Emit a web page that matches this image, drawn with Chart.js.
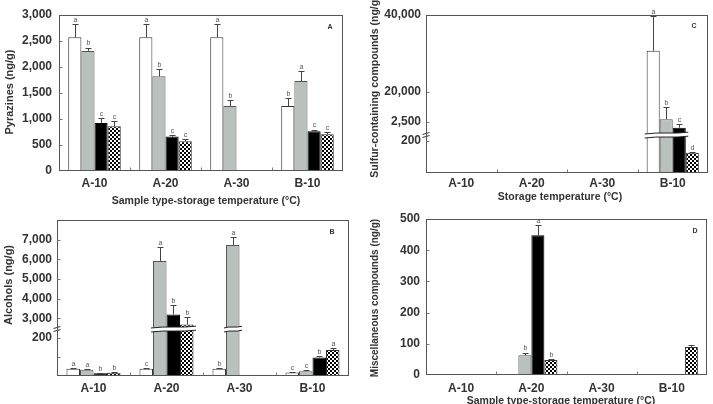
<!DOCTYPE html>
<html>
<head>
<meta charset="utf-8">
<script src="https://cdn.jsdelivr.net/npm/chart.js@4.4.1/dist/chart.umd.min.js"></script>
<style>
html,body{margin:0;padding:0;background:#fff;}
#wrap{position:relative;width:713px;height:404px;overflow:hidden;background:#fff;}
#wrap canvas{position:absolute;left:0;top:0;}
</style>
</head>
<body>
<div id="wrap">
<canvas id="chartA" width="713" height="404"></canvas>
<canvas id="chartB" width="713" height="404"></canvas>
<canvas id="chartC" width="713" height="404"></canvas>
<canvas id="chartD" width="713" height="404"></canvas>
</div>
<script>
// ---------------- DATA ----------------
const categories = ['A-10', 'A-20', 'A-30', 'B-10'];
const seriesNames = ['Series 1', 'Series 2', 'Series 3', 'Series 4'];

// Panel A – Pyrazines (ng/g)
const pyrazinesSeries1 = [2570, 2570, 2570, 1250];
const pyrazinesSeries2 = [2310, 1820, 1250, 1730];
const pyrazinesSeries3 = [925, 662, null, 764];
const pyrazinesSeries4 = [861, 572, null, 707];
const pyrazinesError1 = [250, 250, 250, 145];
const pyrazinesError2 = [65, 135, 115, 190];
const pyrazinesError3 = [85, 32, null, 33];
const pyrazinesError4 = [100, 50, null, 38];
const pyrazinesLetters1 = ['a', 'a', 'a', 'b'];
const pyrazinesLetters2 = ['b', 'b', 'b', 'a'];
const pyrazinesLetters3 = ['c', 'c', null, 'c'];
const pyrazinesLetters4 = ['c', 'c', null, 'c'];
const pyrazinesTicks = [0, 500, 1000, 1500, 2000, 2500, 3000];
const pyrazinesTickLabels = ['0', '500', '1,000', '1,500', '2,000', '2,500', '3,000'];

// Panel B – Alcohols (ng/g), broken axis
const alcoholsSeries1 = [38, 38, 38, 19];
const alcoholsSeries2 = [33, 5910, 6730, 25];
const alcoholsSeries3 = [14, 3190, null, 98];
const alcoholsSeries4 = [17, 2680, null, 137];
const alcoholsError1 = [5, 5, 5, 3];
const alcoholsError2 = [5, 730, 410, 4];
const alcoholsError3 = [3, 460, null, 8];
const alcoholsError4 = [3, 370, null, 10];
const alcoholsLetters1 = ['a', 'c', 'b', 'c'];
const alcoholsLetters2 = ['a', 'a', 'a', 'c'];
const alcoholsLetters3 = ['b', 'b', null, 'b'];
const alcoholsLetters4 = ['b', 'b', null, 'a'];
const alcoholsTicks = [100, 200, 3000, 4000, 5000, 6000, 7000];
const alcoholsTickLabels = ['', '200', '3,000', '4,000', '5,000', '6,000', '7,000'];

// Panel C – Sulfur-containing compounds (ng/g), broken axis
const sulfurSeries1 = [null, null, null, 30700];
const sulfurSeries2 = [null, null, null, 4100];
const sulfurSeries3 = [null, null, null, 1840];
const sulfurSeries4 = [null, null, null, 127];
const sulfurError1 = [null, null, null, 9000];
const sulfurError2 = [null, null, null, 7300];
const sulfurError3 = [null, null, null, 390];
const sulfurError4 = [null, null, null, 5];
const sulfurLetters1 = [null, null, null, 'a'];
const sulfurLetters2 = [null, null, null, 'b'];
const sulfurLetters3 = [null, null, null, 'c'];
const sulfurLetters4 = [null, null, null, 'd'];
const sulfurTicks = [200, 2500, 20000, 40000];
const sulfurTickLabels = ['200', '2,500', '20,000', '40,000'];

// Panel D – Miscellaneous compounds (ng/g)
const miscSeries1 = [null, null, null, null];
const miscSeries2 = [null, 63, null, null];
const miscSeries3 = [null, 448, null, null];
const miscSeries4 = [null, 48, null, 90];
const miscError1 = [null, null, null, null];
const miscError2 = [null, 9, null, null];
const miscError3 = [null, 33, null, null];
const miscError4 = [null, 4, null, 6];
const miscLetters1 = [null, null, null, null];
const miscLetters2 = [null, 'b', null, null];
const miscLetters3 = [null, 'a', null, null];
const miscLetters4 = [null, 'b', null, null];
const miscTicks = [0, 100, 200, 300, 400, 500];
const miscTickLabels = ['0', '100', '200', '300', '400', '500'];

// ---------------- STYLE / LAYOUT ----------------
const FONT = "'Liberation Sans', Arial, Helvetica, sans-serif";
Chart.defaults.font.family = FONT;
Chart.defaults.color = '#333';

// Linear scale with a piecewise (broken) value->position mapping
class BrokenLinearScale extends Chart.LinearScale {
  _k() { return this.options.knots || [[this.min, 0], [this.max, 1]]; }
  getPixelForValue(value) {
    if (value === null || value === undefined || Number.isNaN(+value)) return NaN;
    const k = this._k();
    const v = +value;
    let f;
    if (v <= k[0][0]) f = k[0][1];
    else if (v >= k[k.length - 1][0]) {
      const a = k[k.length - 2], b = k[k.length - 1];
      f = b[1] + (v - b[0]) * (b[1] - a[1]) / (b[0] - a[0]);
    } else {
      for (let i = 1; i < k.length; i++) {
        if (v <= k[i][0]) {
          const a = k[i - 1], b = k[i];
          f = a[1] + (v - a[0]) * (b[1] - a[1]) / (b[0] - a[0]);
          break;
        }
      }
    }
    return this.bottom - f * (this.bottom - this.top);
  }
  getValueForPixel(pixel) {
    const k = this._k();
    const f = (this.bottom - pixel) / (this.bottom - this.top);
    for (let i = 1; i < k.length; i++) {
      if (f <= k[i][1] || i === k.length - 1) {
        const a = k[i - 1], b = k[i];
        return a[0] + (f - a[1]) * (b[0] - a[0]) / (b[1] - a[1]);
      }
    }
    return 0;
  }
}
BrokenLinearScale.id = 'brokenLinear';
BrokenLinearScale.defaults = Chart.LinearScale.defaults;
Chart.register(BrokenLinearScale);

function checker(ctx) {
  const c = document.createElement('canvas');
  c.width = 4; c.height = 4;
  const x = c.getContext('2d');
  x.fillStyle = '#fff'; x.fillRect(0, 0, 4, 4);
  x.fillStyle = '#000'; x.fillRect(0, 0, 2, 2); x.fillRect(2, 2, 2, 2);
  return ctx.createPattern(c, 'repeat');
}

function drawBand(ctx, x0, x1, yc) {
  const h = 4, w = x1 - x0;
  const top = () => { ctx.moveTo(x0, yc - h / 2 + 1); ctx.bezierCurveTo(x0 + w * 0.35, yc - h / 2 - 1.2, x0 + w * 0.65, yc - h / 2 + 1.2, x1, yc - h / 2 - 0.8); };
  const bot = () => { ctx.moveTo(x0, yc + h / 2 + 1); ctx.bezierCurveTo(x0 + w * 0.35, yc + h / 2 - 1.2, x0 + w * 0.65, yc + h / 2 + 1.2, x1, yc + h / 2 - 0.8); };
  ctx.beginPath();
  ctx.moveTo(x0, yc - h / 2 + 1);
  ctx.bezierCurveTo(x0 + w * 0.35, yc - h / 2 - 1.2, x0 + w * 0.65, yc - h / 2 + 1.2, x1, yc - h / 2 - 0.8);
  ctx.lineTo(x1, yc + h / 2 - 0.8);
  ctx.bezierCurveTo(x0 + w * 0.65, yc + h / 2 + 1.2, x0 + w * 0.35, yc + h / 2 - 1.2, x0, yc + h / 2 + 1);
  ctx.closePath();
  ctx.fillStyle = '#fff';
  ctx.fill();
  ctx.strokeStyle = '#222';
  ctx.lineWidth = 1;
  ctx.beginPath(); top(); ctx.stroke();
  ctx.beginPath(); bot(); ctx.stroke();
}

const decorPlugin = {
  id: 'decor',
  afterDatasetsDraw(chart, args, opts) {
    const ctx = chart.ctx, area = chart.chartArea, ys = chart.scales.y;
    ctx.save();
    // broken-axis bands across tall bars
    if (opts.breakValue != null) {
      const by = ys.getPixelForValue(opts.breakValue);
      chart.data.labels.forEach((lab, i) => {
        let x0 = Infinity, x1 = -Infinity;
        chart.data.datasets.forEach((ds, di) => {
          const v = ds.data[i];
          if (v != null && v > opts.breakValue) {
            const el = chart.getDatasetMeta(di).data[i];
            x0 = Math.min(x0, el.x - el.width / 2);
            x1 = Math.max(x1, el.x + el.width / 2);
          }
        });
        if (x0 < x1) drawBand(ctx, x0 - 2, x1 + 2.5, by);
      });
      // axis break mark
      const ax = Math.round(area.left);
      ctx.fillStyle = '#fff';
      ctx.fillRect(ax - 3, by - 1.5, 6, 3);
      ctx.strokeStyle = '#333'; ctx.lineWidth = 1;
      ctx.beginPath();
      ctx.moveTo(ax - 3.5, by - 0.5); ctx.lineTo(ax + 3.5, by - 2.5);
      ctx.moveTo(ax - 3.5, by + 2.5); ctx.lineTo(ax + 3.5, by + 0.5);
      ctx.stroke();
    }
    // error bars + significance letters
    chart.data.datasets.forEach((ds, di) => {
      const meta = chart.getDatasetMeta(di);
      ds.data.forEach((v, i) => {
        if (v == null) return;
        const el = meta.data[i];
        const cx = Math.round(el.x) + 0.5;
        const top = ys.getPixelForValue(v);
        let tip = top;
        const e = ds.errors ? ds.errors[i] : null;
        if (e) {
          tip = ys.getPixelForValue(v + e);
          ctx.strokeStyle = '#444'; ctx.lineWidth = 1;
          ctx.beginPath();
          ctx.moveTo(cx, top); ctx.lineTo(cx, Math.round(tip) + 0.5);
          ctx.moveTo(cx - 3, Math.round(tip) + 0.5); ctx.lineTo(cx + 3, Math.round(tip) + 0.5);
          ctx.stroke();
        }
        const s = ds.letters ? ds.letters[i] : null;
        if (s) {
          ctx.fillStyle = '#555';
          ctx.font = '7px ' + FONT;
          ctx.textAlign = 'center'; ctx.textBaseline = 'bottom';
          ctx.fillText(s, cx, tip - 0.5);
        }
      });
    });
    ctx.restore();
  },
  afterDraw(chart, args, opts) {
    const ctx = chart.ctx, a = chart.chartArea, ys = chart.scales.y, xs = chart.scales.x;
    ctx.save();
    ctx.strokeStyle = '#555'; ctx.lineWidth = 1;
    const L = Math.round(a.left) + 0.5, R = Math.round(a.right) - 0.5, T = Math.round(a.top) + 0.5, B = Math.round(a.bottom) - 0.5;
    ctx.strokeRect(L, T, R - L, B - T);
    // inner tick marks
    ctx.strokeStyle = '#777';
    ctx.beginPath();
    ys.ticks.forEach(t => {
      const p = Math.round(ys.getPixelForValue(t.value)) + 0.5;
      if (p > T + 1 && p < B - 1) { ctx.moveTo(L, p); ctx.lineTo(L + 3, p); }
    });
    for (let i = 1; i < chart.data.labels.length; i++) {
      const p = Math.round((xs.getPixelForValue(i - 1) + xs.getPixelForValue(i)) / 2) + 0.5;
      ctx.moveTo(p, B); ctx.lineTo(p, B - 3);
    }
    ctx.stroke();
    ctx.fillStyle = '#333';
    // panel letter
    if (opts.panel) {
      ctx.font = 'bold 7px ' + FONT;
      ctx.textAlign = 'center'; ctx.textBaseline = 'middle';
      ctx.fillText(opts.panel.text, opts.panel.x, opts.panel.y);
    }
    // axis titles
    if (opts.yTitle) {
      ctx.save();
      ctx.translate(opts.yTitle.x, opts.yTitle.y);
      ctx.rotate(-Math.PI / 2);
      ctx.font = 'bold ' + opts.yTitle.size + 'px ' + FONT;
      ctx.textAlign = 'center'; ctx.textBaseline = 'middle';
      ctx.fillText(opts.yTitle.text, 0, 0);
      ctx.restore();
    }
    if (opts.xTitle) {
      ctx.font = 'bold ' + opts.xTitle.size + 'px ' + FONT;
      ctx.textAlign = 'center'; ctx.textBaseline = 'middle';
      ctx.fillText(opts.xTitle.text, opts.xTitle.x, opts.xTitle.y);
    }
    ctx.restore();
  }
};

const GRAY = '#b9c1bd';

function makeChart(id, cfg) {
  const canvas = document.getElementById(id);
  const ctx = canvas.getContext('2d');
  const pat = checker(ctx);
  const fills = ['#ffffff', GRAY, '#000000', pat];
  const borders = ['#333', '#555', '#000', '#333'];
  const datasets = cfg.series.map((d, i) => ({
    label: seriesNames[i],
    data: d,
    errors: cfg.errors[i],
    letters: cfg.letters[i],
    backgroundColor: fills[i],
    borderColor: borders[i],
    borderWidth: 1,
    barPercentage: 1,
    categoryPercentage: 0.74
  }));
  const yScale = {
    type: cfg.knots ? 'brokenLinear' : 'linear',
    min: cfg.min, max: cfg.max,
    grid: { display: false, drawTicks: false },
    border: { display: false },
    afterBuildTicks: s => { s.ticks = cfg.ticks.map(v => ({ value: v })); },
    afterFit: s => { s.width = 50; },
    ticks: {
      autoSkip: false,
      padding: cfg.yPad,
      color: '#333',
      font: { size: 12, weight: 'bold' },
      callback: (v, i) => cfg.tickLabels[i]
    }
  };
  if (cfg.knots) yScale.knots = cfg.knots;
  return new Chart(ctx, {
    type: 'bar',
    data: { labels: categories, datasets },
    options: {
      responsive: false,
      animation: false,
      devicePixelRatio: 1,
      layout: { padding: cfg.padding },
      plugins: {
        legend: { display: false },
        tooltip: { enabled: false },
        decor: { breakValue: cfg.breakValue, panel: cfg.panel, yTitle: cfg.yTitle, xTitle: cfg.xTitle }
      },
      scales: {
        x: {
          grid: { display: false, drawTicks: false },
          border: { display: false },
          afterFit: s => { s.height = 25; },
          ticks: { padding: cfg.xPad, color: '#333', font: { size: 12, weight: 'bold' }, maxRotation: 0 }
        },
        y: yScale
      }
    },
    plugins: [decorPlugin]
  });
}

const X_TITLE = 'Sample type-storage temperature (\u00B0C)';

makeChart('chartA', {
  series: [pyrazinesSeries1, pyrazinesSeries2, pyrazinesSeries3, pyrazinesSeries4],
  errors: [pyrazinesError1, pyrazinesError2, pyrazinesError3, pyrazinesError4],
  letters: [pyrazinesLetters1, pyrazinesLetters2, pyrazinesLetters3, pyrazinesLetters4],
  ticks: pyrazinesTicks, tickLabels: pyrazinesTickLabels,
  min: 0, max: 3000,
  padding: { left: 9, top: 15, right: 370, bottom: 208 },
  yPad: 7, xPad: 5,
  panel: { text: 'A', x: 330, y: 27 },
  yTitle: { text: 'Pyrazines (ng/g)', x: 10, y: 92, size: 11 },
  xTitle: { text: X_TITLE, x: 206, y: 201, size: 10.5 }
});

makeChart('chartB', {
  series: [alcoholsSeries1, alcoholsSeries2, alcoholsSeries3, alcoholsSeries4],
  errors: [alcoholsError1, alcoholsError2, alcoholsError3, alcoholsError4],
  letters: [alcoholsLetters1, alcoholsLetters2, alcoholsLetters3, alcoholsLetters4],
  ticks: alcoholsTicks, tickLabels: alcoholsTickLabels,
  min: 0, max: 8000,
  knots: [[0, 0], [200, 0.2436], [2400, 0.2949], [8000, 1]],
  breakValue: 2450,
  padding: { left: 7, top: 220, right: 364, bottom: 3 },
  yPad: 5, xPad: 5,
  panel: { text: 'B', x: 332, y: 232 },
  yTitle: { text: 'Alcohols (ng/g)', x: 9, y: 285, size: 11 }
});

makeChart('chartC', {
  series: [sulfurSeries1, sulfurSeries2, sulfurSeries3, sulfurSeries4],
  errors: [sulfurError1, sulfurError2, sulfurError3, sulfurError4],
  letters: [sulfurLetters1, sulfurLetters2, sulfurLetters3, sulfurLetters4],
  ticks: sulfurTicks, tickLabels: sulfurTickLabels,
  min: 0, max: 40000,
  knots: [[0, 0], [200, 0.2025], [1000, 0.2405], [2500, 0.3228], [20000, 0.5127], [40000, 1]],
  breakValue: 1000,
  padding: { left: 376, top: 15, right: 5, bottom: 206 },
  yPad: 5, xPad: 3,
  panel: { text: 'C', x: 694, y: 26 },
  yTitle: { text: 'Sulfur-containing compounds (ng/g)', x: 375, y: 87, size: 10.5 },
  xTitle: { text: 'Storage temperature (\u00B0C)', x: 560, y: 197, size: 10.5 }
});

makeChart('chartD', {
  series: [miscSeries1, miscSeries2, miscSeries3, miscSeries4],
  errors: [miscError1, miscError2, miscError3, miscError4],
  letters: [miscLetters1, miscLetters2, miscLetters3, miscLetters4],
  ticks: miscTicks, tickLabels: miscTickLabels,
  min: 0, max: 500,
  padding: { left: 376, top: 219, right: 6, bottom: 4 },
  yPad: 6, xPad: 6,
  panel: { text: 'D', x: 695, y: 231 },
  yTitle: { text: 'Miscellaneous compounds (ng/g)', x: 375, y: 298, size: 10 },
  xTitle: { text: X_TITLE, x: 561, y: 401, size: 10.5 }
});
</script>
</body>
</html>
